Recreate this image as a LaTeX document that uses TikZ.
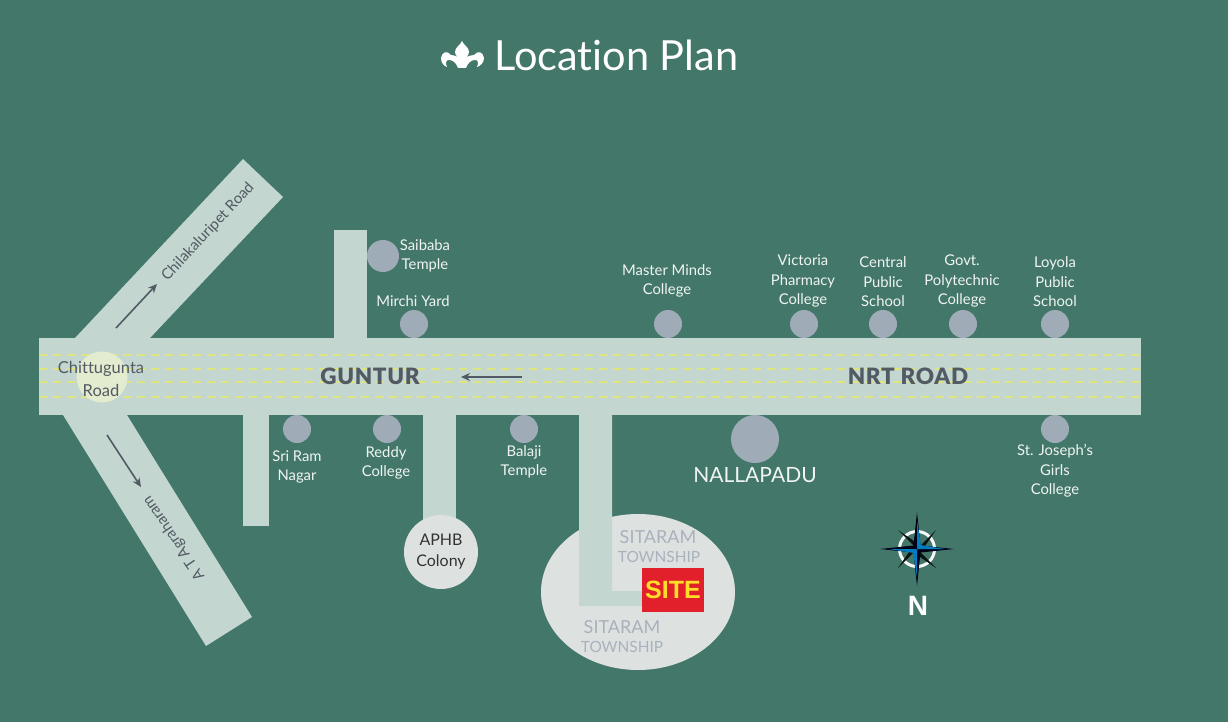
\documentclass[tikz,border=0pt]{standalone}
\usepackage{fontspec}
\setmainfont[Ligatures=NoCommon]{Lato}
\newfontfamily\arialish{Liberation Sans}
\newfontfamily\widebold[LetterSpace=3,Ligatures=NoCommon]{Lato Black}
\usetikzlibrary{arrows.meta,shapes.geometric}
\definecolor{bgc}{HTML}{43776A}
\definecolor{road}{HTML}{C4D6D0}
\definecolor{spot}{HTML}{A0ABB8}
\definecolor{lab}{HTML}{525A63}
\definecolor{lane}{HTML}{DEE47E}
\definecolor{halo}{HTML}{E4ECD0}
\definecolor{pale}{HTML}{DDE2E1}
\definecolor{town}{HTML}{A9B1BD}
\tikzset{
  roadfill/.style={fill=road,draw=none},
  poi/.style={circle,fill=spot,draw=none,inner sep=0pt,minimum size=28pt},
  wlabel/.style={text=white!92!bgc,align=center,font=\fontsize{14.8}{19.5}\selectfont,inner sep=0pt},
  rlabel/.style={text=lab,font=\fontsize{16.5}{23}\selectfont,align=center,inner sep=0pt},
  roadname/.style={text=lab,font=\fontsize{15}{18}\selectfont,inner sep=0pt},
  biglabel/.style={text=lab,font=\fontsize{22.5}{24}\selectfont\widebold,inner sep=0pt},
  lanemark/.style={lane,line width=2.6pt,dash pattern=on 8pt off 6pt},
  dirarrow/.style={draw=lab,line width=1.6pt,-{Stealth[length=9pt,width=8pt]}},
  townbig/.style={text=town,font=\fontsize{18}{20}\selectfont,inner sep=0pt},
  townsmall/.style={text=town,font=\fontsize{15.4}{16}\selectfont,inner sep=0pt}
}
\begin{document}
\begin{tikzpicture}[x=1pt,y=-1pt]
\useasboundingbox (0,0) rectangle (1228,722);
\fill[bgc] (0,0) rectangle (1228,722);
% roads
\fill[roadfill] (243,159) -- (283,197) -- (150,338) -- (75,338) -- cycle;
\fill[roadfill] (63,415) -- (127,415) -- (252,617) -- (206,646) -- cycle;
\fill[roadfill] (334,230) rectangle (367,340);
\fill[roadfill] (243,413) rectangle (269,526);
\fill[roadfill] (39,338) rectangle (1141,415);
% lanes
\foreach \y in {355,369,382,397}{\draw[lanemark] (39,\y) -- (1141,\y);}
% Chittugunta circle
\node[circle,fill=halo,inner sep=0pt,minimum size=51pt] (hub) at (102,377) {};
\node[rlabel] (chit) at (101,378.5) {Chittugunta\\Road};
% APHB
\fill[roadfill] (423,413) rectangle (456,530);
\node[circle,fill=pale,inner sep=0pt,minimum size=74pt] (aphb) at (441,552) {};
\node[text=black!80,font=\fontsize{16}{21}\selectfont,align=center,inner sep=0pt] at (441,552) {APHB\\Colony};
% township
\node[ellipse,fill=pale,inner sep=0pt,minimum width=194pt,minimum height=156pt] (town) at (638,592) {};
\fill[roadfill] (579,413) -- (612,413) -- (612,591) -- (645,591) -- (645,606) -- (579,606) -- cycle;
\node[townbig] at (658,537) {SITARAM};
\node[townsmall] at (659,557) {TOWNSHIP};
\node[townbig] at (622,627) {SITARAM};
\node[townsmall] at (622,647) {TOWNSHIP};
\node[fill={rgb,255:red,226;green,32;blue,44},minimum width=62pt,minimum height=44pt,inner sep=0pt,text={rgb,255:red,255;green,222;blue,40},font=\fontsize{25}{25}\selectfont\arialish\bfseries] (site) at (673,590) {SITE};
% spots
\node[poi,minimum size=32pt] (sai) at (383,256) {};
\node[poi] (mir) at (414,324) {};
\node[poi] (mas) at (668,324) {};
\node[poi] (vic) at (804,324) {};
\node[poi] (cen) at (883,324) {};
\node[poi] (gov) at (963,324) {};
\node[poi] (loy) at (1055,324) {};
\node[poi] (sri) at (297,429) {};
\node[poi] (red) at (387,429) {};
\node[poi] (bal) at (524,429) {};
\node[poi,minimum size=48pt] (nal) at (755,439) {};
\node[poi] (stj) at (1055,429) {};
% labels
\node[wlabel] at (425,256) {Saibaba\\Temple};
\node[wlabel] at (413,301) {Mirchi Yard};
\node[wlabel] at (667,281) {Master Minds\\College};
\node[wlabel] at (803,281) {Victoria\\Pharmacy\\College};
\node[wlabel] at (883,282) {Central\\Public\\School};
\node[wlabel] at (962,281) {Govt.\\Polytechnic\\College};
\node[wlabel] at (1055,282) {Loyola\\Public\\School};
\node[wlabel] at (297,467) {Sri Ram\\Nagar};
\node[wlabel] at (386,463) {Reddy\\College};
\node[wlabel] at (524,462) {Balaji\\Temple};
\node[wlabel] at (1055,471) {St. Joseph’s\\Girls\\College};
\node[text=white!92!bgc,font=\fontsize{21}{24}\selectfont,inner sep=0pt] at (755,475) {NALLAPADU};
\node[biglabel] at (370,376) {GUNTUR};
\node[biglabel] at (908,376) {NRT ROAD};
\node[roadname,rotate=47] at (208,232) {Chilakaluripet Road};
\node[roadname,rotate=124] at (174,538) {A T Agraharam};
% direction arrows
\coordinate (a1) at (116,328); \coordinate (a2) at (157,284);
\coordinate (b1) at (107,435); \coordinate (b2) at (141,487);
\coordinate (c1) at (522,377); \coordinate (c2) at (461,377);
\draw[dirarrow] (a1) -- (a2);
\draw[dirarrow] (b1) -- (b2);
\draw[dirarrow] (c1) -- (c2);
% title
\node[text=white,font=\fontsize{41.5}{44}\selectfont,anchor=west,inner sep=0pt] (title) at (494,55) {Location Plan};
\fill[white] (462,41) .. controls (464,46) and (469,47) .. (469,52)
  .. controls (469,54) and (468,56) .. (466,57)
  .. controls (469,56) and (472,55) .. (474,55)
  .. controls (478,50) and (483,52) .. (484,58)
  .. controls (484,63) and (480,66) .. (477,67)
  .. controls (479,63) and (478,59) .. (474,60)
  .. controls (470,61) and (468,63) .. (466,68)
  -- (458,68)
  .. controls (456,63) and (454,61) .. (450,60)
  .. controls (446,59) and (445,63) .. (447,67)
  .. controls (444,66) and (441,63) .. (441,58)
  .. controls (442,52) and (447,50) .. (451,55)
  .. controls (453,55) and (456,56) .. (458,57)
  .. controls (456,56) and (455,54) .. (455,52)
  .. controls (455,47) and (460,46) .. (462,41) -- cycle;
% compass
\begin{scope}[shift={(917,549)}]
\draw[white!95!bgc,line width=3pt] (0,0) circle (17.5);
\fill[black!85!bgc] (-19,-19) -- (3.5,-3.5) -- (19,-19) -- (3.5,3.5) -- (19,19) -- (-3.5,3.5) -- (-19,19) -- (-3.5,-3.5) -- cycle;
\fill[black!90!blue] (0,-37) -- (3.5,-3.5) -- (37,0) -- (3.5,3.5) -- (0,37) -- (-3.5,3.5) -- (-37,0) -- (-3.5,-3.5) -- cycle;
\fill[blue!35!cyan!75!black] (0,-28) -- (4,-3.5) -- (0,0) -- cycle;
\fill[blue!35!cyan!75!black] (0,28) -- (-4,3.5) -- (0,0) -- cycle;
\fill[blue!35!cyan!75!black] (-28,0) -- (-3.5,4) -- (0,0) -- cycle;
\fill[blue!35!cyan!75!black] (28,0) -- (3.5,-4) -- (0,0) -- cycle;
\end{scope}
\node[text=white,font=\fontsize{28}{28}\selectfont\arialish\bfseries,inner sep=0pt] (north) at (918,606) {N};
\end{tikzpicture}
\end{document}
